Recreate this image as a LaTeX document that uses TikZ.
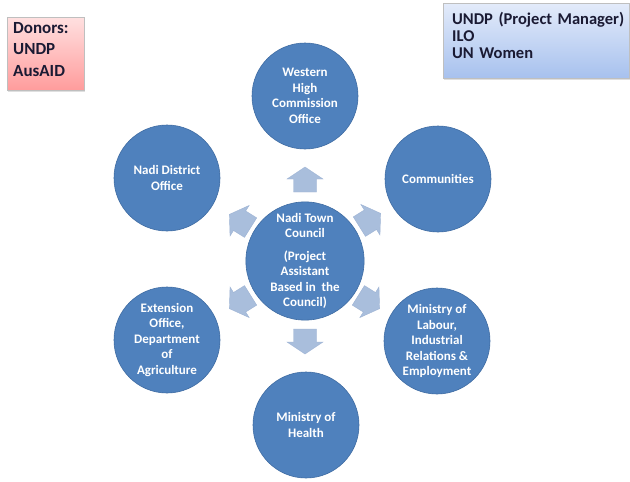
\documentclass[tikz,border=0pt]{standalone}
\usepackage{fontspec}
\setmainfont{Carlito}
\usetikzlibrary{shadows}
\definecolor{circfill}{HTML}{4F81BD}
\definecolor{circline}{HTML}{3F6CA3}
\definecolor{arrfill}{HTML}{A9BEDC}
\definecolor{arrline}{HTML}{9DB3D4}
\definecolor{pinktop}{HTML}{FFE0E0}
\definecolor{pinkbot}{HTML}{FF9C9C}
\definecolor{bluetop}{HTML}{E3EBFA}
\definecolor{bluebot}{HTML}{A7C1EE}
\definecolor{boxtext}{HTML}{1A1A33}
\begin{document}
\begin{tikzpicture}[x=1pt,y=-1pt,
  circ/.style={circle,fill=circfill,draw=circline,line width=0.6pt,minimum size=106pt,inner sep=0pt,
    text=white,font=\fontsize{13}{15.5}\selectfont\bfseries,align=center},
  outarrow/.style={fill=arrfill,draw=arrline,line width=0.4pt},
  infobox/.style={draw=black!25,line width=0.5pt,inner sep=0pt,anchor=north west,
    drop shadow={opacity=0.25,shadow xshift=1pt,shadow yshift=-1.5pt}},
  boxlabel/.style={inner sep=0pt,anchor=north west,text=boxtext,align=left}]
\useasboundingbox (0,0) rectangle (630,482);
\fill[white] (0,0) rectangle (630,482);

% boxes
\node[infobox,top color=pinktop,bottom color=pinkbot,minimum width=77pt,minimum height=73pt] (donors) at (7,17) {};
\node[boxlabel,text width=68pt,font=\fontsize{17}{21.5}\selectfont\bfseries] (donorstext) at (13,22) {Donors:\\UNDP\\AusAID};
\node[infobox,top color=bluetop,bottom color=bluebot,minimum width=186pt,minimum height=75pt] (partners) at (443,3) {};
\node[boxlabel,text width=176pt,font=\fontsize{16.5}{16.8}\selectfont\bfseries] (partnerstext) at (452,12.5) {UNDP (Project Manager)\\ILO\\UN Women};

% circles
\node[circ] (center) at (305,261) {Nadi Town\\Council\\[7pt](Project\\Assistant\\Based in\ \ the\\Council)};
\node[circ] (western) at (305,96) {Western\\High\\Commission\\Office};
\node[circ] (comm) at (438,179) {Communities};
\node[circ] (labour) at (437,341) {Ministry of\\Labour,\\Industrial\\Relations \&\\Employment};
\node[circ] (health) at (306,425) {Ministry of\\Health};
\node[circ] (ext) at (167,340) {Extension\\Office,\\Department\\of\\Agriculture};
\node[circ] (district) at (167,178) {Nadi District\\Office};

% arrows
\foreach \px/\py/\ang in {305/179.5/90, 305/341.5/-90, 370/220/32, 369/302/-32, 240/221/148, 240/302/212}{
  \draw[outarrow,shift={(\px,\py)},rotate=\ang]
    (-12.5,-11.5) -- (0.5,-11.5) -- (0.5,-18) -- (12.5,0) -- (0.5,18) -- (0.5,11.5) -- (-12.5,11.5) -- cycle;
}
\end{tikzpicture}
\end{document}
